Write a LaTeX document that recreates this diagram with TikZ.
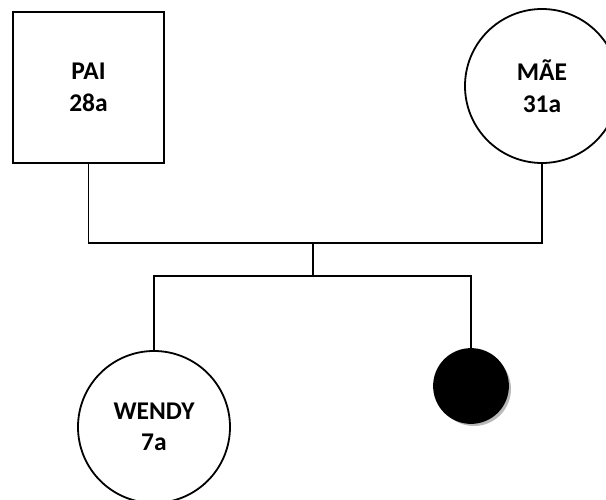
\documentclass[tikz,border=0pt]{standalone}
\usepackage{fontspec}
\setmainfont{Carlito}
\begin{document}
\begin{tikzpicture}[x=1pt,y=-1pt,line width=1.8pt,
  lbl/.style={font=\bfseries\fontsize{25.5}{31.5}\selectfont, align=center, inner sep=0pt},
  male/.style={draw, rectangle, minimum size=151pt, lbl},
  female/.style={draw, circle, lbl},
  link/.style={line width=1.8pt}]
\useasboundingbox (0,0) rectangle (606,500);
\fill[white] (0,0) rectangle (606,500);
\node[male] (pai) at (88.5,87.5) {PAI\\28a};
\node[female, minimum size=154pt] (mae) at (542,86) {MÃE\\31a};
\node[female, minimum size=152pt] (wendy) at (154,427) {WENDY\\7a};
\coordinate (bc) at (471,386);
\fill[gray!55] ([shift={(3pt,-3pt)}]bc) circle (37pt);
\node[circle, draw, fill=black, minimum size=74pt, inner sep=0pt] (baby) at (bc) {};
\coordinate (j) at (313,243);
\coordinate (k) at (313,276);
\draw[link] (pai.south) |- (j) -| (mae.south);
\draw[link] (j) -- (k);
\draw[link] (wendy.north) |- (k) -| (baby.north);
\end{tikzpicture}
\end{document}
